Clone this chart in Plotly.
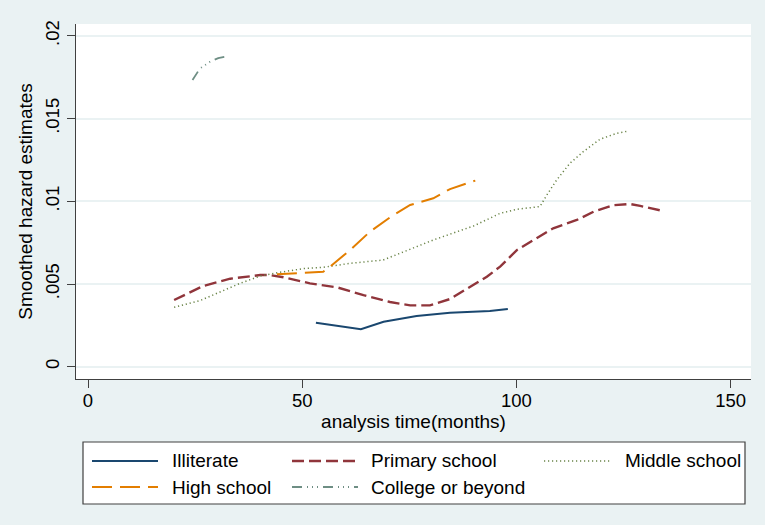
import plotly.graph_objects as go

# Smoothed hazard estimates by education level (time in months)
illiterate_t = [53.2, 63.7, 69.0, 76.7, 84.5, 89.2, 93.8, 98.0]
illiterate_h = [0.00266, 0.00226, 0.00272, 0.00307, 0.00326, 0.00331, 0.00337, 0.00349]

primary_t = [20.1, 26.9, 33.2, 40.2, 42.5, 45.6, 51.8, 58.1, 64.3, 70.5, 75.2, 79.8,
             84.5, 88.4, 93.1, 96.2, 100.1, 104.0, 108.6, 114.1, 118.0, 122.6, 126.5,
             128.9, 134.3]
primary_h = [0.00403, 0.00488, 0.00532, 0.00554, 0.00554, 0.00541, 0.00504, 0.00480,
             0.00433, 0.00391, 0.00371, 0.00371, 0.00409, 0.00468, 0.00544, 0.00605,
             0.00705, 0.00766, 0.00837, 0.00887, 0.00937, 0.00976, 0.00984, 0.00972,
             0.00941]

middle_t = [20.1, 26.1, 35.5, 40.2, 44.1, 50.3, 54.9, 61.2, 68.9, 73.6, 80.6, 90.0,
            96.2, 100.1, 105.5, 107.1, 109.4, 112.5, 115.6, 119.5, 123.4, 126.1]
middle_h = [0.00359, 0.00399, 0.00504, 0.00548, 0.00568, 0.00593, 0.00601, 0.00625,
            0.00645, 0.00695, 0.00766, 0.00851, 0.00927, 0.00952, 0.00968, 0.01038,
            0.01129, 0.01230, 0.01300, 0.01375, 0.01411, 0.01425]

high_t = [44.1, 54.9, 56.5, 61.2, 65.8, 70.5, 75.2, 80.6, 84.5, 90.4]
high_h = [0.00559, 0.00574, 0.00605, 0.00706, 0.00816, 0.00903, 0.00978, 0.01018,
          0.01074, 0.01125]

college_t = [24.4, 26.1, 28.5, 30.4, 32.1]
college_h = [0.01733, 0.01802, 0.01844, 0.01866, 0.01874]

x_ticks = [0, 50, 100, 150]
y_ticks = [0, 0.005, 0.01, 0.015, 0.02]
y_tick_text = ["0", ".005", ".01", ".015", ".02"]

series = [
    ("Illiterate", illiterate_t, illiterate_h, "#1A476F", "solid", 2.0),
    ("Primary school", primary_t, primary_h, "#90353B", "12px,5px", 2.4),
    ("Middle school", middle_t, middle_h, "#6A8448", "1.2px,2.8px", 1.5),
    ("High school", high_t, high_h, "#E37E00", "20px,8px", 2.0),
    ("College or beyond", college_t, college_h, "#6E8E84",
     "10px,5px,1px,4px,1px,4px,1px,5px", 1.8),
]

W, H = 765, 525
ML, MR, MT, MB = 76, 14, 24, 146
PW, PH = W - ML - MR, H - MT - MB

FONT = "Liberation Sans, Arial, Helvetica, sans-serif"

fig = go.Figure()
for name, t, h, color, dash, width in series:
    fig.add_trace(go.Scatter(x=t, y=h, mode="lines", name=name,
                             line=dict(color=color, dash=dash, width=width)))


def px_x(px):
    return (px - ML) / PW


def px_y(py):
    return (H - MB - py) / PH


# Legend box drawn below the plot: three columns, two rows
shapes = [dict(type="rect", xref="paper", yref="paper",
               x0=px_x(83), x1=px_x(745), y0=px_y(504), y1=px_y(442),
               line=dict(color="#404040", width=1.2), fillcolor="white", layer="above")]
annotations = []
col_sample = [(92, 158, 170), (292, 358, 369), (544, 610, 623)]
slots = [(0, 0), (0, 1), (0, 2), (1, 0), (1, 1)]
row_y = [461, 487]
for (name, t, h, color, dash, width), (r, c) in zip(series, slots):
    xs0, xs1, xt = col_sample[c]
    yy = px_y(row_y[r])
    shapes.append(dict(type="line", xref="paper", yref="paper",
                       x0=px_x(xs0), x1=px_x(xs1), y0=yy, y1=yy,
                       line=dict(color=color, dash=dash, width=width), layer="above"))
    annotations.append(dict(text=name, xref="paper", yref="paper", x=px_x(xt), y=yy,
                            xanchor="left", yanchor="middle", showarrow=False,
                            font=dict(family=FONT, size=19, color="#000")))

fig.update_layout(
    width=W, height=H,
    margin=dict(l=ML, r=MR, t=MT, b=MB),
    paper_bgcolor="#EAF2F3", plot_bgcolor="white",
    showlegend=False,
    font=dict(family=FONT, size=19, color="#000"),
    shapes=shapes, annotations=annotations,
    xaxis=dict(range=[-2.8, 154.76], tickvals=x_ticks, ticks="outside", ticklen=8,
               tickcolor="#404040", tickwidth=1.2, showgrid=False, zeroline=False,
               showline=True, linecolor="#404040", linewidth=1.4,
               tickfont=dict(size=18.5), ticklabelstandoff=-3,
               title=dict(text="analysis time(months)", font=dict(size=19), standoff=0)),
    yaxis=dict(range=[-0.000744, 0.02072], tickvals=y_ticks, ticktext=y_tick_text,
               tickangle=-90, ticks="outside", ticklen=8, tickcolor="#404040",
               tickwidth=1.2, showgrid=True, gridcolor="#EAF2F3", gridwidth=1.5,
               zeroline=False, showline=True, linecolor="#404040", linewidth=1.4,
               tickfont=dict(size=18.5),
               title=dict(text="Smoothed hazard estimates", font=dict(size=19), standoff=4)),
)

fig.write_html("out.html")
